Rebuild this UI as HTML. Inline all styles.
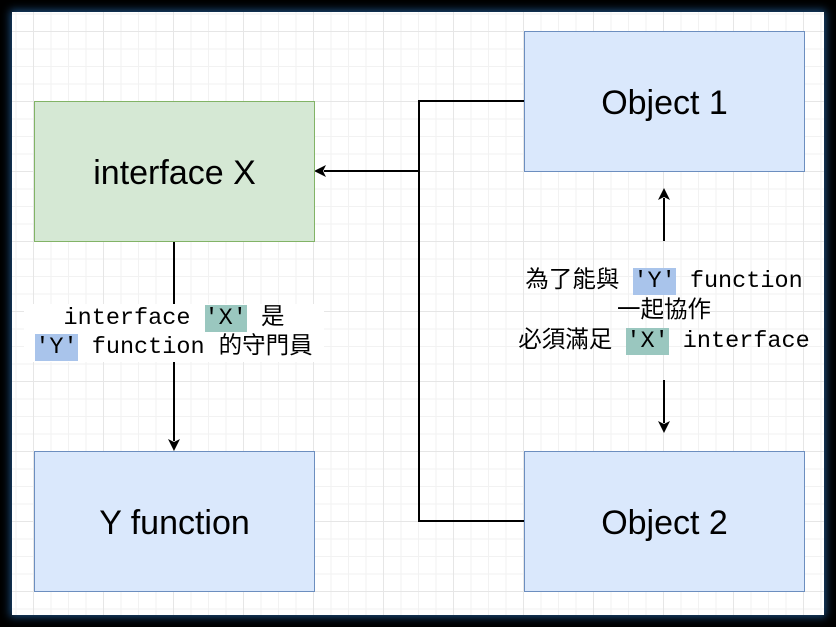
<!DOCTYPE html>
<html><head><meta charset="utf-8"><style>
body{margin:0;width:836px;height:627px;background:#000;position:relative;overflow:hidden}
#c{position:absolute;left:12px;top:12px;width:812px;height:603px;background-color:#fff;
background-image:linear-gradient(#e6e6e6 1px,transparent 1px),linear-gradient(90deg,#e6e6e6 1px,transparent 1px),linear-gradient(#f2f2f2 1px,transparent 1px),linear-gradient(90deg,#f2f2f2 1px,transparent 1px);
background-size:70px 70px,70px 70px,17.5px 17.5px,17.5px 17.5px;background-position:21px 19px,21px 19px,21px 19px,21px 19px;box-shadow:0 0 8px 2px #1a4a7a}
.b{position:absolute;width:281px;height:141px;display:flex;align-items:center;justify-content:center;font:34px "Liberation Sans",sans-serif;color:#000;padding-top:4px;box-sizing:border-box}
.g{background:#d5e8d4;border:1px solid #82b366}
.u{background:#dae8fc;border:1px solid #6c8ebf}
.t{position:absolute;font:23.5px "Liberation Mono","Noto Sans CJK TC",monospace;color:#000;white-space:nowrap;text-align:center;line-height:29px}
.x{background:#9ac7bf}.y{background:#a9c4eb}
</style></head><body>
<div id="c"></div>
<svg style="position:absolute;left:0;top:0" width="836" height="627">
<g stroke="#000" stroke-width="2" fill="none">
<polyline points="524,101 419,101 419,521 524,521"/>
<line x1="419" y1="171" x2="324" y2="171"/>
<line x1="174" y1="241" x2="174" y2="441"/>
<line x1="664" y1="241" x2="664" y2="198"/>
<line x1="664" y1="380" x2="664" y2="423"/>
</g>
<g fill="#000">
<polygon points="314,171 326,165 323,171 326,177"/>
<polygon points="174,451 168,439 174,442 180,439"/>
<polygon points="664,188 658,200 664,197 670,200"/>
<polygon points="664,433 658,421 664,424 670,421"/>
</g>
</svg>
<div class="b g" style="left:34px;top:101px">interface X</div>
<div class="b u" style="left:34px;top:451px">Y function</div>
<div class="b u" style="left:524px;top:31px">Object 1</div>
<div class="b u" style="left:524px;top:451px">Object 2</div>
<div class="t" style="left:24px;top:304px;width:300px;background:#fff">interface <span class="x">'X'</span> 是<br><span class="y">'Y'</span> function 的守門員</div>
<div class="t" style="left:504px;top:267px;width:320px;line-height:30px">為了能與 <span class="y">'Y'</span> function<br>一起協作<br>必須滿足 <span class="x">'X'</span> interface</div>
</body></html>
